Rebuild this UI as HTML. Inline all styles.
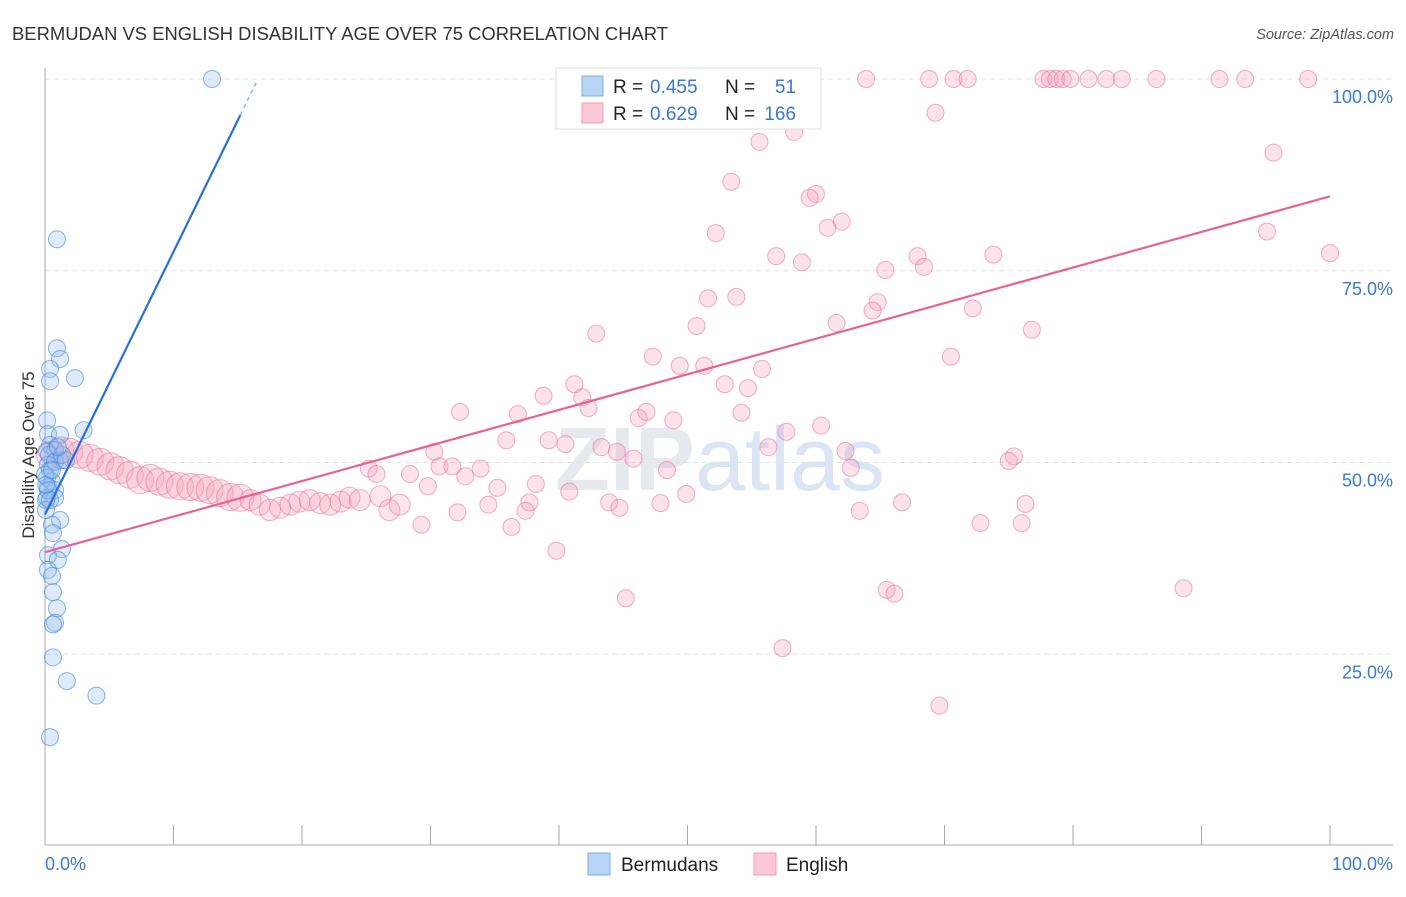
<!DOCTYPE html>
<html><head><meta charset="utf-8"><style>
body{margin:0;background:#fff;font-family:"Liberation Sans",sans-serif}
svg text{font-family:"Liberation Sans",sans-serif}
</style></head><body>
<svg id="c" width="1406" height="892" xmlns="http://www.w3.org/2000/svg">
<text x="12" y="40" font-size="18" fill="#333" textLength="656" lengthAdjust="spacingAndGlyphs">BERMUDAN VS ENGLISH DISABILITY AGE OVER 75 CORRELATION CHART</text>
<text x="1394" y="39" font-size="14.5" fill="#555" font-style="italic" text-anchor="end">Source: ZipAtlas.com</text>
<text x="720" y="490" font-size="90" fill="#e6e9ee" text-anchor="middle" font-weight="bold">ZIP<tspan fill="#dbe5f4" font-weight="normal">atlas</tspan></text>
<g id="grid"></g><g id="axes"></g><g id="pink"></g><g id="blue"></g><g id="lines"></g>
<g>
<rect x="556" y="68" width="265" height="61" fill="#fff" stroke="#ddd"/>
<rect x="582" y="76" width="21" height="20" fill="#b8d4f5" stroke="#7aaee8"/>
<rect x="582" y="103" width="21" height="20" fill="#fcc8d8" stroke="#f29ab6"/>
<text x="613" y="93" font-size="19" fill="#222">R =</text>
<text x="650" y="93" font-size="19" fill="#3b78d0">0.455</text>
<text x="725" y="93" font-size="19" fill="#222">N =</text>
<text x="796" y="93" font-size="19" fill="#3b78d0" text-anchor="end">51</text>
<text x="613" y="120" font-size="19" fill="#222">R =</text>
<text x="650" y="120" font-size="19" fill="#3b78d0">0.629</text>
<text x="725" y="120" font-size="19" fill="#222">N =</text>
<text x="796" y="120" font-size="19" fill="#3b78d0" text-anchor="end">166</text>
</g>
<g>
<rect x="588" y="853" width="22" height="22" fill="#b8d4f5" stroke="#7aaee8"/>
<text x="621" y="871" font-size="19" fill="#222">Bermudans</text>
<rect x="754" y="853" width="22" height="22" fill="#fcc8d8" stroke="#f29ab6"/>
<text x="786" y="871" font-size="19" fill="#222">English</text>
</g>
<text transform="translate(34,455) rotate(-90)" font-size="17" fill="#333" text-anchor="middle">Disability Age Over 75</text>
<text x="45" y="870" font-size="18" fill="#3b78d0">0.0%</text>
<text x="1393" y="870" font-size="18" fill="#3b78d0" text-anchor="end">100.0%</text>
</svg>
<script>
const yTicks=[100,75,50,25];
const yTickLabels=["100.0%","75.0%","50.0%","25.0%"];
const xTicks=[0,10,20,30,40,50,60,70,80,90,100];
const blueX=[13.0,0.93,0.93,1.17,0.39,0.39,2.33,0.16,3.0,0.23,1.17,0.39,0.78,0.16,1.17,0.23,0.39,0.16,0.54,0.23,0.78,0.16,0.78,1.17,0.54,0.62,1.32,0.23,1.0,0.23,0.54,0.62,0.93,0.78,0.62,0.62,1.7,4.0,0.39,0.08,0.08,0.31,0.78,1.32,1.63,0,0.23,0.39,0.08,0.54,1.0];
const blueY=[100,79.1,64.9,63.5,62.2,60.6,61.0,55.5,54.2,53.7,53.6,52.3,51.6,51.4,50.3,49.7,49.0,48.0,47.5,46.8,46.4,45.4,45.4,42.5,41.9,40.8,38.7,37.9,37.3,36.0,35.2,33.1,31.0,29.1,28.9,24.6,21.5,19.6,14.2,45.1,43.8,51.0,50.1,51.0,50.3,48.4,46.4,45.1,47.1,49.0,52.0];
const pinkX=[63.9,68.8,70.7,71.8,77.7,78.2,78.7,79.2,79.8,81.2,82.6,83.8,86.5,91.4,93.4,98.3,69.3,55.6,58.3,95.6,53.4,60.0,59.5,52.2,60.9,62.0,95.1,100,56.9,58.9,65.4,67.9,68.4,73.8,51.6,53.8,64.8,64.4,72.2,50.7,61.6,76.8,42.9,47.3,49.4,51.3,55.8,70.5,41.2,52.9,54.7,38.8,41.8,42.3,32.3,36.8,54.2,46.2,46.8,48.9,60.4,57.7,56.3,35.9,39.2,40.5,43.3,30.3,44.5,62.3,75.4,75.0,45.8,30.7,62.7,25.2,25.8,31.7,33.9,48.4,28.4,32.7,29.8,38.2,35.2,40.8,49.9,43.9,47.9,76.3,66.7,34.5,32.1,37.7,44.7,37.4,63.4,72.8,76.0,29.3,36.3,39.8,88.6,65.5,66.1,45.2,57.4,69.6];
const pinkY=[100,100,100,100,100,100,100,100,100,100,100,100,100,100,100,100,95.6,91.8,93.1,90.4,86.6,85.0,84.5,79.9,80.6,81.4,80.1,77.3,76.9,76.1,75.1,76.9,75.5,77.1,71.4,71.6,70.9,69.8,70.1,67.8,68.2,67.3,66.8,63.8,62.6,62.6,62.2,63.8,60.2,60.2,59.7,58.7,58.5,57.1,56.6,56.3,56.5,55.8,56.6,55.5,54.8,54.0,52.0,52.9,52.9,52.4,52.0,51.4,51.4,51.5,50.8,50.2,50.5,49.5,49.3,49.2,48.5,49.5,49.2,49.0,48.5,48.2,46.9,47.2,46.7,46.2,45.9,44.8,44.7,44.6,44.8,44.5,43.5,44.8,44.1,43.7,43.7,42.1,42.1,41.9,41.6,38.5,33.6,33.4,32.9,32.3,25.8,18.3];
const clusterX=[0.4,1.2,1.9,2.7,3.5,4.3,5.1,5.8,6.6,7.4,8.2,8.9,9.7,10.5,11.3,12.1,12.8,13.6,14.4,15.2,16.0,16.7,17.5,18.3,19.1,19.8,20.6,21.4,22.2,23.0,23.7,24.5,26.1,26.8,27.6];
const clusterY=[51.0,51.6,51.4,51.0,50.6,50.1,49.5,49.0,48.4,47.7,48.0,47.5,47.1,46.9,46.8,46.7,46.4,46.0,45.5,45.4,45.1,44.5,43.8,44.1,44.5,44.9,45.1,44.7,44.5,44.9,45.4,45.1,45.6,43.8,44.5];
const blueFit=[0,43.2,15.2,95.3];
const pinkFit=[0,38.3,100,84.7];
const X=v=>45+v*12.85, Y=v=>846-v*7.67;
const NS="http://www.w3.org/2000/svg";
function mk(p,t,a){const e=document.createElementNS(NS,t);for(const k in a)e.setAttribute(k,a[k]);document.getElementById(p).appendChild(e);return e;}
yTicks.forEach((t,i)=>{
 const l=mk('grid','line',{x1:45,x2:1393,y1:Y(t),y2:Y(t),stroke:'#e2e2e2','stroke-dasharray':'5,4'});
 
 
 const tx=mk('grid','text',{x:1393,y:Y(t)+24,'font-size':18,fill:'#3b78d0','text-anchor':'end'});
 tx.textContent=yTickLabels[i];
 
 
});
let a=mk('axes','line',{x1:45,x2:45,y1:68,y2:845,stroke:'#aaa'});


a=mk('axes','line',{x1:45,x2:1393,y1:845,y2:845,stroke:'#aaa'});


xTicks.forEach(t=>{const l=mk('axes','line',{x1:X(t),x2:X(t),y1:825,y2:845,stroke:'#aaa'});
 
 });
clusterX.forEach((v,i)=>{const c=mk('pink','circle',{cx:X(v),cy:Y(clusterY[i]),r:i<20?13.5:10.5,fill:'rgba(246,160,188,0.28)',stroke:'rgba(232,110,150,0.55)'});
 
 });
pinkX.forEach((v,i)=>{const c=mk('pink','circle',{cx:X(v),cy:Y(pinkY[i]),r:8.5,fill:'rgba(246,160,188,0.3)',stroke:'rgba(232,110,150,0.55)'});
 
 });
blueX.forEach((v,i)=>{const c=mk('blue','circle',{cx:X(v),cy:Y(blueY[i]),r:8.5,fill:'rgba(150,190,240,0.3)',stroke:'rgba(60,130,220,0.6)'});
 
 });
const s=(blueFit[3]-blueFit[1])/(blueFit[2]-blueFit[0]);
let ln=mk('lines','line',{x1:X(blueFit[0]),y1:Y(blueFit[1]),x2:X(blueFit[2]),y2:Y(blueFit[3]),stroke:'#2a6fd6','stroke-width':2.2});


ln=mk('lines','line',{x1:X(blueFit[2]),y1:Y(blueFit[3]),x2:X(16.5),y2:Y(blueFit[3]+s*(16.5-blueFit[2])),stroke:'#8ab4ea','stroke-width':1.5,'stroke-dasharray':'4,4'});


ln=mk('lines','line',{x1:X(pinkFit[0]),y1:Y(pinkFit[1]),x2:X(pinkFit[2]),y2:Y(pinkFit[3]),stroke:'#e8628f','stroke-width':2.2});


</script>
</body></html>
